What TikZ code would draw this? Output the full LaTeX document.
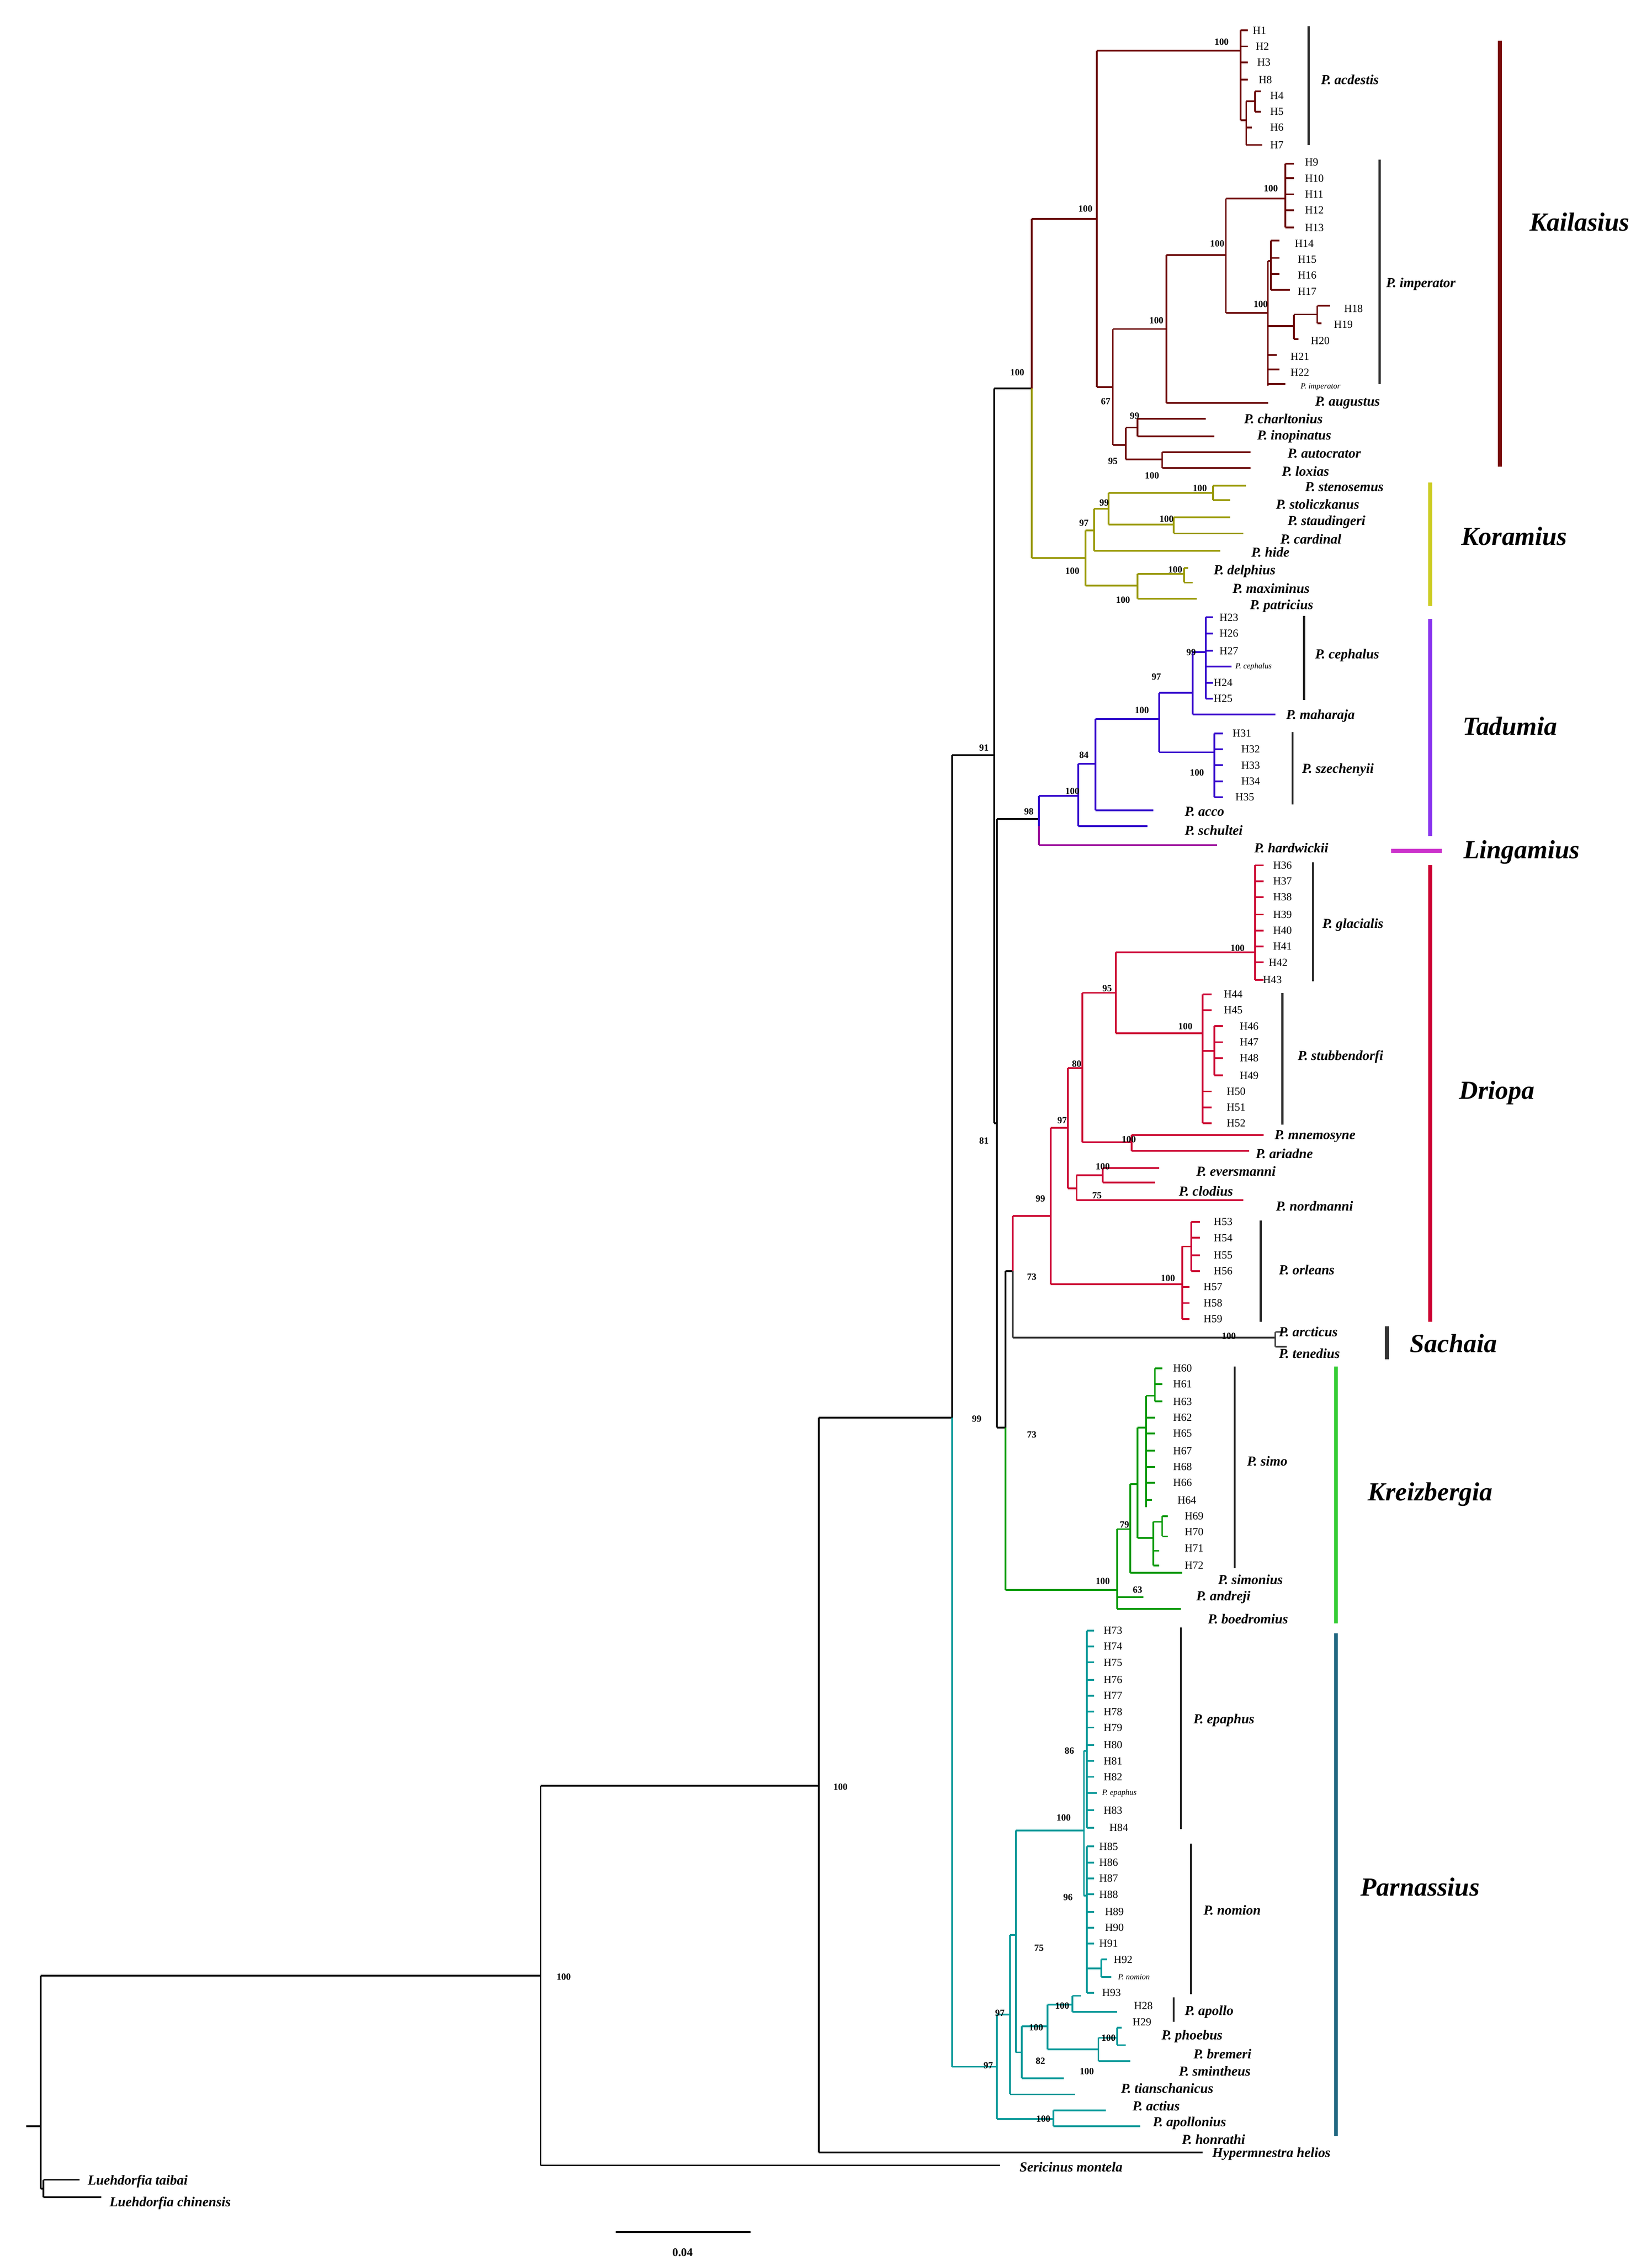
\documentclass[tikz,border=0pt]{standalone}
\usepackage{fontspec}
\setmainfont{Liberation Serif}
\definecolor{kail}{HTML}{6B0000}
\definecolor{kor}{HTML}{999900}
\definecolor{tad}{HTML}{3300CC}
\definecolor{ling}{HTML}{990099}
\definecolor{dri}{HTML}{CC0033}
\definecolor{sach}{HTML}{333333}
\definecolor{kre}{HTML}{009900}
\definecolor{par}{HTML}{009999}
\definecolor{barkail}{HTML}{7A0A0A}
\definecolor{barkor}{HTML}{CCCC22}
\definecolor{bartad}{HTML}{8833EE}
\definecolor{barling}{HTML}{CC33CC}
\definecolor{barkre}{HTML}{33CC33}
\definecolor{barpar}{HTML}{1F6680}
\newcommand{\hb}[3]{\draw (#1,#3)--(#2,#3);}
\newcommand{\vb}[3]{\draw (#1,#2)--(#1,#3);}
\newcommand{\bsv}[3]{\node[bs] at (#1,#2) {#3};}
\newcommand{\tipl}[3]{\node[hl] at (#1,#2) {#3};}
\newcommand{\spl}[3]{\node[sp] at (#1,#2) {#3};}
\tikzset{
 bs/.style={font=\fontsize{6.5}{7}\selectfont\bfseries, inner sep=0},
 hl/.style={font=\fontsize{7.5}{8}\selectfont, anchor=west, inner sep=0},
 sp/.style={font=\fontsize{9.5}{10}\selectfont\bfseries\itshape, anchor=west, inner sep=0},
 smsp/.style={font=\fontsize{5.5}{6}\selectfont\itshape, anchor=west, inner sep=0},
 clade/.style={font=\fontsize{18}{20}\selectfont\bfseries\itshape, inner sep=0},
 brk/.style={draw=black!85, line width=1.4pt},
 bar/.style={line width=2.6pt},
}
\begin{document}
\begin{tikzpicture}[x=1pt,y=-1pt,line width=1.2pt]
\useasboundingbox[fill=white] (0,0) rectangle (1140,1560);

% ---------- backbone (black) ----------
\begin{scope}[draw=black]
\hb{18}{28}{1467}
\vb{28}{1363}{1510}
\hb{28}{30}{1510}
\vb{30}{1504}{1516}
\hb{30}{55}{1504}
\hb{30}{70}{1516}
\hb{28}{373}{1363}
\vb{373}{1232}{1494}
\hb{373}{690}{1494}
\hb{373}{565}{1232}
\vb{565}{978}{1485}
\hb{565}{830}{1485}
\hb{565}{657}{978}
\vb{657}{521}{978}
\hb{657}{686}{521}
\vb{686}{268}{775}
\hb{686}{712}{268}
\hb{686}{688}{775}
\vb{688}{565}{985}
\hb{688}{717}{565}
\hb{688}{694}{985}
\vb{694}{877}{985}
\hb{694}{699}{877}
\end{scope}
\bsv{389}{1364}{100}
\bsv{580}{1233}{100}
\bsv{674}{979}{99}
\bsv{679}{516}{91}
\bsv{679}{787}{81}
\bsv{712}{881}{73}
\bsv{712}{990}{73}
\bsv{702}{257}{100}

% ---------- Kailasius ----------
\begin{scope}[draw=kail]
\vb{712}{151}{268}
\hb{712}{757}{151}
\vb{757}{35}{267}
\hb{757}{854}{35}
\vb{856}{21}{83}
\hb{854}{856}{35}
\foreach \y in {21,32,43,55}{\hb{856}{861}{\y}}
\hb{856}{860}{83}
\vb{860}{70}{100}
\hb{860}{866}{70}
\vb{866}{63}{77}
\hb{866}{870}{63}\hb{866}{870}{77}
\hb{860}{864}{88}
\hb{860}{871}{100}
\hb{757}{768}{267}
\vb{768}{227}{307}
\hb{768}{805}{227}
\vb{805}{176}{278}
\hb{805}{875}{278}
\hb{805}{846}{176}
\vb{846}{137}{216}
\hb{846}{887}{137}
\vb{887}{113}{157}
\foreach \y in {113,123,134,145,157}{\hb{887}{893}{\y}}
\hb{846}{875}{216}
\vb{875}{180}{266}
\hb{875}{877}{180}
\vb{877}{166}{200}
\foreach \y in {166,178,189}{\hb{877}{883}{\y}}
\hb{877}{890}{200}
\hb{875}{893}{225}
\vb{893}{217}{234}
\hb{893}{909}{217}
\vb{909}{211}{223}
\hb{909}{918}{211}\hb{909}{912}{223}
\hb{893}{896}{234}
\hb{875}{881}{245}\hb{875}{883}{255}\hb{875}{887}{265}
\hb{768}{777}{307}
\vb{777}{295}{317}
\hb{777}{785}{295}
\vb{785}{289}{301}
\hb{785}{832}{289}\hb{785}{838}{301}
\hb{777}{802}{317}
\vb{802}{312}{323}
\hb{802}{863}{312}\hb{802}{863}{323}
\end{scope}
\bsv{843}{29}{100}
\bsv{749}{144}{100}
\bsv{763}{277}{67}
\bsv{798}{221}{100}
\bsv{840}{168}{100}
\bsv{877}{130}{100}
\bsv{870}{210}{100}
\bsv{783}{287}{99}
\bsv{768}{318}{95}
\bsv{795}{328}{100}
\tipl{864}{21}{H1}\tipl{866}{32}{H2}\tipl{867}{43}{H3}\tipl{868}{55}{H8}
\tipl{876}{66}{H4}\tipl{876}{77}{H5}\tipl{876}{88}{H6}\tipl{876}{100}{H7}
\tipl{900}{112}{H9}\tipl{900}{123}{H10}\tipl{900}{134}{H11}\tipl{900}{145}{H12}\tipl{900}{157}{H13}
\tipl{893}{168}{H14}\tipl{895}{179}{H15}\tipl{895}{190}{H16}\tipl{895}{201}{H17}
\tipl{927}{213}{H18}\tipl{920}{224}{H19}\tipl{904}{235}{H20}\tipl{890}{246}{H21}\tipl{890}{257}{H22}
\node[smsp] at (897,267) {P. imperator};
\spl{907}{278}{P. augustus}
\spl{858}{289}{P. charltonius}
\spl{867}{301}{P. inopinatus}
\spl{888}{313}{P. autocrator}
\spl{884}{325}{P. loxias}
\draw[brk] (903,18)--(903,100);
\spl{911}{55}{P. acdestis}
\draw[brk] (952,110)--(952,265);
\spl{956}{196}{P. imperator}
\draw[bar,barkail] (1035,28)--(1035,322);
\node[clade] at (1090,153) {Kailasius};

% ---------- Koramius ----------
\begin{scope}[draw=kor]
\vb{712}{268}{385}
\hb{712}{749}{385}
\vb{749}{366}{404}
\hb{749}{755}{366}
\vb{755}{351}{380}
\hb{755}{842}{380}
\hb{755}{765}{351}
\vb{765}{340}{362}
\hb{765}{837}{340}
\vb{837}{335}{345}
\hb{837}{860}{335}\hb{837}{849}{345}
\hb{765}{810}{362}
\vb{810}{357}{368}
\hb{810}{849}{357}\hb{810}{858}{368}
\hb{749}{785}{404}
\vb{785}{396}{413}
\hb{785}{817}{396}
\vb{817}{392}{402}
\hb{817}{820}{392}\hb{817}{823}{402}
\hb{785}{826}{413}
\end{scope}
\bsv{828}{337}{100}\bsv{762}{347}{99}\bsv{748}{361}{97}\bsv{805}{358}{100}
\bsv{740}{394}{100}\bsv{811}{393}{100}\bsv{775}{414}{100}
\spl{900}{336}{P. stenosemus}
\spl{880}{348}{P. stoliczkanus}
\spl{888}{360}{P. staudingeri}
\spl{883}{372}{P. cardinal}
\spl{863}{381}{P. hide}
\spl{837}{394}{P. delphius}
\spl{850}{406}{P. maximinus}
\spl{862}{418}{P. patricius}
\draw[bar,barkor] (987,333)--(987,418);
\node[clade] at (1045,370) {Koramius};

% ---------- Tadumia ----------
\begin{scope}[draw=tad]
\vb{717}{549}{570}
\hb{717}{744}{549}
\vb{744}{527}{570}
\hb{744}{792}{570}
\hb{744}{756}{527}
\vb{756}{496}{559}
\hb{756}{796}{559}
\hb{756}{800}{496}
\vb{800}{478}{519}
\hb{800}{823}{478}
\vb{823}{450}{493}
\hb{823}{880}{493}
\hb{823}{832}{450}
\vb{832}{426}{482}
\foreach \y in {426,437,449,471,482}{\hb{832}{837}{\y}}
\hb{832}{850}{460}
\hb{800}{838}{519}
\vb{838}{506}{550}
\foreach \y in {506,517,528,539,550}{\hb{838}{844}{\y}}
\end{scope}
\begin{scope}[draw=ling]
\vb{717}{570}{583}
\hb{717}{840}{583}
\end{scope}
\bsv{710}{560}{98}\bsv{740}{546}{100}\bsv{748}{521}{84}\bsv{788}{490}{100}
\bsv{798}{467}{97}\bsv{822}{450}{99}\bsv{826}{533}{100}
\tipl{841}{426}{H23}\tipl{841}{437}{H26}\tipl{841}{449}{H27}
\node[smsp] at (852,460) {P. cephalus};
\tipl{837}{471}{H24}\tipl{837}{482}{H25}
\tipl{850}{506}{H31}\tipl{856}{517}{H32}\tipl{856}{528}{H33}\tipl{856}{539}{H34}\tipl{852}{550}{H35}
\spl{887}{494}{P. maharaja}
\spl{817}{560}{P. acco}
\spl{817}{573}{P. schultei}
\spl{865}{585}{P. hardwickii}
\draw[brk] (900,425)--(900,483);
\spl{907}{452}{P. cephalus}
\draw[brk] (892,505)--(892,555);
\spl{898}{531}{P. szechenyii}
\draw[bar,bartad] (987,427)--(987,577);
\node[clade] at (1042,501) {Tadumia};
\draw[bar,barling] (960,587)--(995,587);
\node[clade] at (1050,588) {Lingamius};

% ---------- Driopa ----------
\begin{scope}[draw=dri]
\vb{699}{839}{877}
\hb{699}{725}{839}
\vb{725}{778}{886}
\hb{725}{816}{886}
\hb{725}{737}{778}
\vb{737}{737}{820}
\hb{737}{743}{820}
\vb{743}{811}{828}
\hb{743}{858}{828}
\hb{743}{761}{811}
\vb{761}{806}{816}
\hb{761}{800}{806}\hb{761}{797}{816}
\hb{737}{747}{737}
\vb{747}{685}{788}
\hb{747}{781}{788}
\vb{781}{783}{794}
\hb{781}{872}{783}\hb{781}{862}{794}
\hb{747}{770}{685}
\vb{770}{657}{713}
\hb{770}{866}{657}
\vb{866}{597}{676}
\foreach \y in {597,608,619,631,642,653,664,676}{\hb{866}{872}{\y}}
\hb{770}{830}{713}
\vb{830}{686}{775}
\foreach \y in {686,697,753,764,775}{\hb{830}{836}{\y}}
\hb{830}{838}{725}
\vb{838}{708}{742}
\foreach \y in {708,719,730,742}{\hb{838}{844}{\y}}
\vb{816}{860}{905}
\hb{816}{822}{860}
\vb{822}{843}{877}
\foreach \y in {843,854,866,877}{\hb{822}{828}{\y}}
\foreach \y in {888,899,910}{\hb{816}{821}{\y}}
\vb{816}{886}{910}
\end{scope}
\bsv{854}{654}{100}\bsv{818}{708}{100}\bsv{764}{682}{95}\bsv{743}{734}{80}
\bsv{733}{773}{97}\bsv{779}{786}{100}\bsv{761}{805}{100}\bsv{757}{825}{75}
\bsv{718}{827}{99}\bsv{806}{882}{100}
\tipl{878}{597}{H36}\tipl{878}{608}{H37}\tipl{878}{619}{H38}\tipl{878}{631}{H39}
\tipl{878}{642}{H40}\tipl{878}{653}{H41}\tipl{875}{664}{H42}\tipl{871}{676}{H43}
\tipl{844}{686}{H44}\tipl{844}{697}{H45}\tipl{855}{708}{H46}\tipl{855}{719}{H47}
\tipl{855}{730}{H48}\tipl{855}{742}{H49}\tipl{846}{753}{H50}\tipl{846}{764}{H51}\tipl{846}{775}{H52}
\tipl{837}{843}{H53}\tipl{837}{854}{H54}\tipl{837}{866}{H55}\tipl{837}{877}{H56}
\tipl{830}{888}{H57}\tipl{830}{899}{H58}\tipl{830}{910}{H59}
\spl{879}{784}{P. mnemosyne}
\spl{866}{796}{P. ariadne}
\spl{825}{808}{P. eversmanni}
\spl{813}{822}{P. clodius}
\spl{880}{832}{P. nordmanni}
\draw[brk] (906,595)--(906,677);
\spl{912}{638}{P. glacialis}
\draw[brk] (885,685)--(885,776);
\spl{895}{729}{P. stubbendorfi}
\draw[brk] (870,842)--(870,912);
\spl{882}{876}{P. orleans}
\draw[bar,dri] (987,597)--(987,912);
\node[clade] at (1033,754) {Driopa};

% ---------- Sachaia ----------
\begin{scope}[draw=sach]
\vb{699}{877}{923}
\hb{699}{880}{923}
\vb{880}{919}{929}
\hb{880}{888}{919}\hb{880}{888}{929}
\end{scope}
\bsv{848}{922}{100}
\spl{882}{919}{P. arcticus}
\spl{882}{934}{P. tenedius}
\draw[bar,sach] (957,915)--(957,938);
\node[clade] at (1003,927) {Sachaia};

% ---------- Kreizbergia ----------
\begin{scope}[draw=kre]
\vb{694}{985}{1097}
\hb{694}{771}{1097}
\vb{771}{1055}{1110}
\hb{771}{780}{1055}
\vb{780}{1024}{1085}
\hb{780}{816}{1085}
\hb{780}{785}{1024}
\vb{785}{985}{1061}
\hb{785}{791}{985}
\vb{791}{963}{1040}
\vb{797}{944}{967}
\hb{791}{797}{963}
\foreach \y in {944,955,967}{\hb{797}{802}{\y}}
\foreach \y in {978,989,1001,1012,1023}{\hb{791}{797}{\y}}
\hb{791}{795}{1035}
\hb{785}{796}{1061}
\vb{796}{1050}{1080}
\hb{796}{802}{1050}
\vb{802}{1046}{1060}
\hb{802}{806}{1046}\hb{802}{806}{1060}
\hb{796}{800}{1070}\hb{796}{800}{1080}
\hb{771}{789}{1102}
\hb{771}{815}{1110}
\end{scope}
\bsv{761}{1091}{100}\bsv{776}{1052}{79}\bsv{785}{1097}{63}
\tipl{809}{944}{H60}\tipl{809}{955}{H61}\tipl{809}{967}{H63}\tipl{809}{978}{H62}
\tipl{809}{989}{H65}\tipl{809}{1001}{H67}\tipl{809}{1012}{H68}\tipl{809}{1023}{H66}
\tipl{812}{1035}{H64}\tipl{817}{1046}{H69}\tipl{817}{1057}{H70}\tipl{817}{1068}{H71}\tipl{817}{1080}{H72}
\spl{840}{1090}{P. simonius}
\spl{825}{1102}{P. andreji}
\spl{833}{1117}{P. boedromius}
\draw[brk] (852,943)--(852,1082);
\spl{860}{1008}{P. simo}
\draw[bar,barkre] (922,943)--(922,1120);
\node[clade] at (987,1031) {Kreizbergia};

% ---------- Parnassius ----------
\begin{scope}[draw=par]
\vb{657}{978}{1426}
\hb{657}{688}{1426}
\vb{688}{1390}{1462}
\hb{688}{727}{1462}
\vb{727}{1456}{1467}
\hb{727}{763}{1456}\hb{727}{787}{1467}
\hb{688}{697}{1390}
\vb{697}{1335}{1445}
\hb{697}{742}{1445}
\hb{697}{701}{1335}
\vb{701}{1263}{1416}
\hb{701}{748}{1263}
\vb{748}{1208}{1308}
\hb{748}{750}{1208}
\vb{750}{1125}{1261}
\foreach \y in {1125,1136,1147,1159,1170,1181,1192,1204,1215,1226,1249,1261}{\hb{750}{755}{\y}}
\hb{750}{757}{1237}
\hb{748}{750}{1308}
\vb{750}{1274}{1375}
\foreach \y in {1274,1285,1296,1307,1319,1330,1341,1375}{\hb{750}{755}{\y}}
\hb{750}{760}{1358}
\vb{760}{1352}{1364}
\hb{760}{764}{1352}\hb{760}{767}{1364}
\hb{701}{705}{1416}
\vb{705}{1398}{1434}
\hb{705}{734}{1434}
\hb{705}{723}{1398}
\vb{723}{1383}{1414}
\hb{723}{740}{1383}
\vb{740}{1377}{1388}
\hb{740}{746}{1377}\hb{740}{771}{1388}
\hb{723}{758}{1414}
\vb{758}{1406}{1422}
\hb{758}{771}{1406}
\vb{771}{1399}{1411}
\hb{771}{774}{1399}\hb{771}{777}{1411}
\hb{758}{780}{1422}
\end{scope}
\bsv{682}{1425}{97}\bsv{690}{1389}{97}\bsv{717}{1344}{75}\bsv{718}{1422}{82}
\bsv{715}{1399}{100}\bsv{733}{1384}{100}\bsv{765}{1406}{100}\bsv{750}{1429}{100}
\bsv{720}{1462}{100}\bsv{734}{1254}{100}\bsv{738}{1208}{86}\bsv{737}{1309}{96}
\tipl{761}{1125}{H73}\tipl{761}{1136}{H74}\tipl{761}{1147}{H75}\tipl{761}{1159}{H76}
\tipl{761}{1170}{H77}\tipl{761}{1181}{H78}\tipl{761}{1192}{H79}\tipl{761}{1204}{H80}
\tipl{761}{1215}{H81}\tipl{761}{1226}{H82}
\node[smsp] at (760,1237) {P. epaphus};
\tipl{761}{1249}{H83}\tipl{765}{1261}{H84}
\tipl{758}{1274}{H85}\tipl{758}{1285}{H86}\tipl{758}{1296}{H87}\tipl{758}{1307}{H88}
\tipl{762}{1319}{H89}\tipl{762}{1330}{H90}\tipl{758}{1341}{H91}\tipl{768}{1352}{H92}
\node[smsp] at (771,1364) {P. nomion};
\tipl{760}{1375}{H93}
\tipl{782}{1384}{H28}\tipl{781}{1395}{H29}
\spl{801}{1405}{P. phoebus}
\spl{823}{1417}{P. bremeri}
\spl{813}{1429}{P. smintheus}
\spl{773}{1441}{P. tianschanicus}
\spl{781}{1453}{P. actius}
\spl{795}{1465}{P. apollonius}
\spl{815}{1476}{P. honrathi}
\draw[brk] (815,1123)--(815,1262);
\spl{823}{1187}{P. epaphus}
\draw[brk] (822,1272)--(822,1376);
\spl{830}{1318}{P. nomion}
\draw[brk] (810,1378)--(810,1395);
\spl{817}{1388}{P. apollo}
\draw[bar,barpar] (922,1127)--(922,1474);
\node[clade] at (980,1302) {Parnassius};

% ---------- outgroups & scale ----------
\spl{836}{1486}{Hypermnestra helios}
\spl{703}{1495}{Sericinus montela}
\spl{60}{1505}{Luehdorfia taibai}
\spl{75}{1520}{Luehdorfia chinensis}
\draw[black] (425,1540)--(518,1540);
\node[bs,font=\fontsize{8}{9}\selectfont\bfseries] at (471,1554) {0.04};
\end{tikzpicture}
\end{document}
